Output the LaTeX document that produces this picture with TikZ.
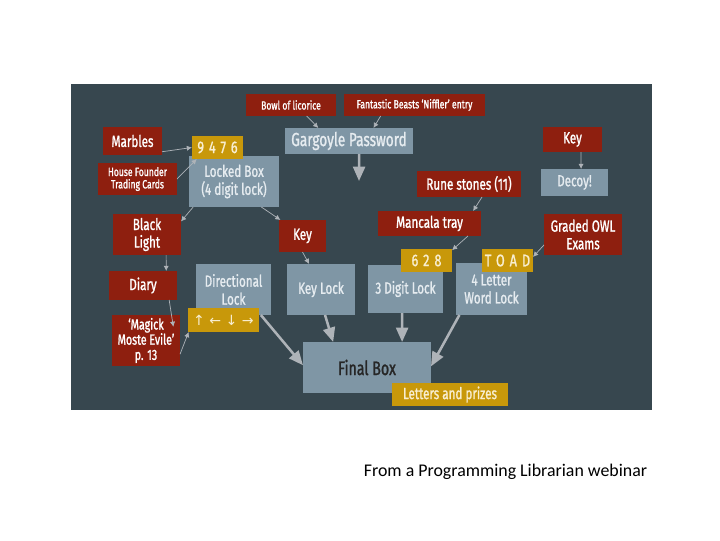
\documentclass[tikz,border=0pt]{standalone}
\usepackage{fontspec}
\setmainfont{Carlito}
\newfontfamily\boxfont[FakeStretch=0.72, FakeBold=1.2]{Fira Sans}
\newfontfamily\codefont[FakeStretch=0.75, FakeBold=1.2, LetterSpace=30]{Fira Sans}
\newfontfamily\arrowfont{DejaVu Sans}
\usetikzlibrary{arrows.meta}
\definecolor{panelbg}{HTML}{37474F}
\definecolor{cluered}{HTML}{8E1F0F}
\definecolor{lockgray}{HTML}{7F96A5}
\definecolor{locktext}{HTML}{E6ECF0}
\definecolor{codegold}{HTML}{C8980A}
\definecolor{codetext}{HTML}{F8EED0}
\definecolor{linkgray}{HTML}{AEB3B8}

\begin{document}
\begin{tikzpicture}[
        x=0.025cm, y=-0.025cm,
        boxsize/.style 2 args={minimum width=#1*0.025cm, minimum height=#2*0.025cm},
        clue/.style={
            fill=cluered,
            text=white,
            inner sep=1pt,
            outer sep=0pt,
            align=center,
            font=\boxfont\fontsize{11.5}{12.5}\selectfont
        },
        smallclue/.style={clue, font=\boxfont\fontsize{8.5}{8.8}\selectfont},
        lock/.style={
            fill=lockgray,
            text=locktext,
            inner sep=1pt,
            outer sep=0pt,
            align=center,
            font=\boxfont\fontsize{11.5}{12.8}\selectfont
        },
        code/.style={
            fill=codegold,
            text=codetext,
            inner sep=1pt,
            outer sep=0pt,
            font=\codefont\fontsize{12}{13}\selectfont
        },
        cluelink/.style={-{Latex[length=1.3mm, width=1.3mm]}, line width=0.5pt, linkgray},
        locklink/.style={-{Triangle[length=3.6mm, width=3mm]}, line width=1.8pt, linkgray}
    ]
        \useasboundingbox (0,0) rectangle (720,540);
        \fill[panelbg] (71,84) rectangle (652,410);

        % locks
        \node[lock, boxsize={128}{26}, font=\boxfont\fontsize{13.5}{14}\selectfont] (gargoyle) at (349,141) {Gargoyle Password};
        \node[lock, boxsize={90}{51}] (lockedbox) at (234,181.5) {Locked Box\\(4 digit lock)};
        \node[lock, boxsize={67}{27}] (decoy) at (574.5,182.5) {Decoy!};
        \node[lock, boxsize={75}{51}] (dirlock) at (233.5,289.5) {Directional\\Lock};
        \node[lock, boxsize={68}{51}] (keylock) at (321,289.5) {Key Lock};
        \node[lock, boxsize={75}{48}] (digitlock) at (405.5,289) {3 Digit Lock};
        \node[lock, boxsize={71}{52}] (wordlock) at (491.5,289) {4 Letter\\Word Lock};
        \node[lock, boxsize={128}{51}, text=black!85, font=\boxfont\fontsize{14}{15}\selectfont] (finalbox) at (367,367.5) {Final Box};

        % clues
        \node[smallclue, boxsize={90}{22}] (licorice) at (291,105) {Bowl of licorice};
        \node[smallclue, boxsize={141}{22}] (beasts) at (414.5,105) {Fantastic Beasts ‘Niffler’ entry};
        \node[clue, boxsize={59}{28}] (marbles) at (132.5,141) {Marbles};
        \node[smallclue, boxsize={79}{32}] (cards) at (137.5,179) {House Founder\\Trading Cards};
        \node[clue, boxsize={59}{25}] (keytop) at (572.5,139.5) {Key};
        \node[clue, boxsize={104}{26}] (runes) at (469,184) {Rune stones (11)};
        \node[clue, boxsize={68}{41}] (blacklight) at (147,234.5) {Black\\Light};
        \node[clue, boxsize={47}{32}] (key) at (302.5,236) {Key};
        \node[clue, boxsize={103}{25}] (mancala) at (429.5,223.5) {Mancala tray};
        \node[clue, boxsize={78}{41}] (owl) at (583,234.5) {Graded OWL\\Exams};
        \node[clue, boxsize={68}{29}] (diary) at (143,285.5) {Diary};
        \node[clue, boxsize={68}{51}, font=\boxfont\fontsize{10.5}{10.8}\selectfont] (magick) at (146,340.5) {‘Magick\\Moste Evile’\\p. 13};

        % codes
        \node[code, boxsize={51}{23}] (code9476) at (217.5,147.5) {9476};
        \node[code, boxsize={51}{23}] (code628) at (426.5,260.5) {628};
        \node[code, boxsize={51}{23}] (toad) at (507.5,260.5) {TOAD};
        \node[code, boxsize={71}{24}, font=\arrowfont\fontsize{10}{11}\selectfont] (arrows) at (223.5,320) {↑ ← ↓ →};
        \node[code, boxsize={116}{23}, font=\boxfont\fontsize{11.5}{12}\selectfont] (prizes) at (450,394.5) {Letters and prizes};

        \coordinate (gargoyleout) at (359,181);

        % links
        \draw[cluelink] (licorice.-35) -- (gargoyle.157);
        \draw[cluelink] (beasts.198) -- (gargoyle.28);
        \draw[cluelink] (marbles.-20) -- (code9476.west);
        \draw[cluelink] (cards.east) -- (code9476.209);
        \draw[cluelink] (lockedbox.212) -- (blacklight.21);
        \draw[cluelink] (lockedbox.-43) -- (key.144);
        \draw[cluelink] (key.south) -- (keylock.115);
        \draw[cluelink] (blacklight.-47) -- (diary.32);
        \draw[cluelink, shorten >=-0.3cm] (diary.-29) -- (magick.45);
        \draw[cluelink] (magick.-22) -- (arrows.199);
        \draw[cluelink] (keytop.-56) -- (decoy.64);
        \draw[cluelink] (runes.-45) -- (mancala.16);
        \draw[cluelink] (mancala.-18) -- (code628.22);
        \draw[cluelink] (owl.195) -- (toad.8);

        \draw[locklink] (gargoyle.-52) -- (gargoyleout);
        \draw[locklink] (dirlock.-43) -- (finalbox.178);
        \draw[locklink] (keylock.-81) -- (finalbox.143);
        \draw[locklink] (digitlock.-98) -- (finalbox.36);
        \draw[locklink] (wordlock.219) -- (finalbox.1);

        \node[font=\fontsize{12.7}{14}\selectfont] (caption) at (505.5,472) {From a Programming Librarian webinar};
    \end{tikzpicture}
\end{document}
